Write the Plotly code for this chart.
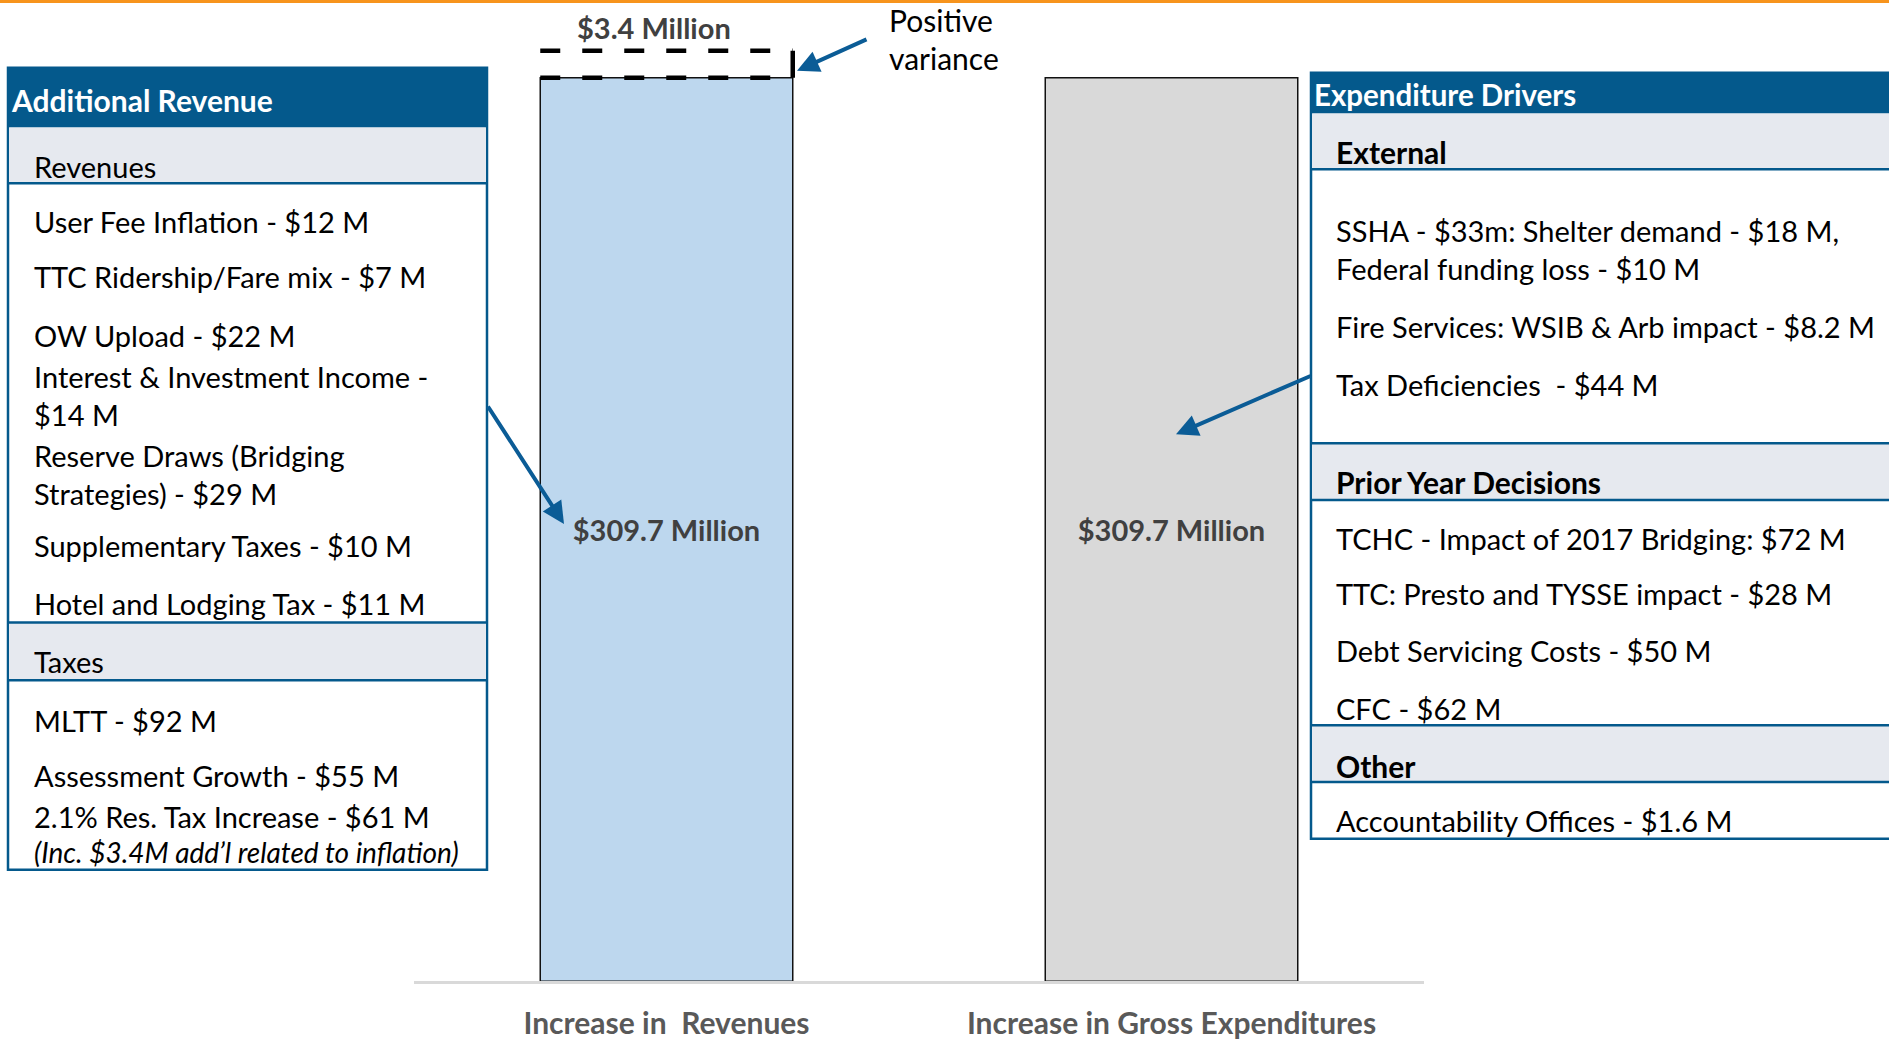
import plotly.graph_objects as go

# ---------------- data ----------------
categories = ["Increase in  Revenues", "Increase in Gross Expenditures"]
values = [309.7, 309.7]
variance = 3.4

revenue_title = "Additional Revenue"
revenue_group1 = "Revenues"
revenue_items1 = [
    "User Fee Inflation - $12 M",
    "TTC Ridership/Fare mix - $7 M",
    "OW Upload - $22 M",
    "Interest & Investment Income -\n$14 M",
    "Reserve Draws (Bridging\nStrategies) - $29 M",
    "Supplementary Taxes - $10 M",
    "Hotel and Lodging Tax - $11 M",
]
revenue_group2 = "Taxes"
revenue_items2 = [
    "MLTT - $92 M",
    "Assessment Growth - $55 M",
    "2.1% Res. Tax Increase - $61 M",
]
revenue_note = "(Inc. $3.4M add\u2019l related to inflation)"

exp_title = "Expenditure Drivers"
exp_groups = ["External", "Prior Year Decisions", "Other"]
exp_items = [
    ["SSHA - $33m: Shelter demand - $18 M,\nFederal funding loss - $10 M",
     "Fire Services: WSIB & Arb impact - $8.2 M",
     "Tax Deficiencies  - $44 M"],
    ["TCHC - Impact of 2017 Bridging: $72 M",
     "TTC: Presto and TYSSE impact - $28 M",
     "Debt Servicing Costs - $50 M",
     "CFC - $62 M"],
    ["Accountability Offices - $1.6 M"],
]
variance_note = "Positive\nvariance"

# ---------------- layout constants ----------------
W, H = 1889, 1040
FONT = "Lato"
NAVY = "#04598C"
BAND = "#E6E9EF"
ARROW = "#0B5C96"
ITEM_SIZE = 29


def px(x):
    return x / W


def py(y):
    return 1 - y / H


fig = go.Figure()
fig.add_trace(go.Bar(
    x=categories, y=values, width=0.5,
    marker=dict(color=["#BDD7EE", "#D9D9D9"], line=dict(color="#111111", width=1.5)),
    texttemplate="<b>$%{y:.1f} Million</b>", textposition="inside",
    insidetextanchor="middle",
    textfont=dict(family=FONT, size=29, color="#404040"),
    hoverinfo="skip",
))

shapes = []
annotations = []

# orange top line
shapes.append(dict(type="rect", xref="paper", yref="paper", x0=0, x1=1, y0=py(3), y1=1,
                   fillcolor="#F7941D", line=dict(width=0), layer="above"))


def rect(x0, x1, y0, y1, fill, line_w=0, line_c=NAVY):
    shapes.append(dict(type="rect", xref="paper", yref="paper",
                       x0=px(x0), x1=px(x1), y0=py(y1), y1=py(y0),
                       fillcolor=fill, line=dict(width=line_w, color=line_c), layer="below"))


def hline(x0, x1, y, w=2.5, c=NAVY):
    shapes.append(dict(type="line", xref="paper", yref="paper",
                       x0=px(x0), x1=px(x1), y0=py(y), y1=py(y),
                       line=dict(width=w, color=c), layer="below"))


def text(x, y, s, size=ITEM_SIZE, color="#000000", bold=False, italic=False, xanchor="left"):
    if bold:
        s = "<b>" + s + "</b>"
    if italic:
        s = "<i>" + s + "</i>"
    annotations.append(dict(xref="paper", yref="paper", x=px(x), y=py(y), text=s,
                            showarrow=False, xanchor=xanchor, yanchor="middle",
                            font=dict(family=FONT, size=size, color=color)))


# ---------- left panel ----------
LX0, LX1 = 8, 487
TX_L = 31.5
rect(LX0, LX1, 68, 873, "white", 2.5)
rect(LX0, LX1, 68, 128, NAVY)
rect(LX0 + 1, LX1 - 1, 128, 184, BAND)
rect(LX0 + 1, LX1 - 1, 625, 683, BAND)
hline(LX0, LX1, 184)
hline(LX0, LX1, 625)
hline(LX0, LX1, 683)
text(9, 100, revenue_title, size=30, color="white", bold=True)
text(TX_L, 167, revenue_group1)
rev_line_y = [222, 278, 337, 378, 416, 457, 495, 548, 606]
lines = [ln for it in revenue_items1 for ln in it.split("\n")]
for s, y in zip(lines, rev_line_y):
    text(TX_L, y, s)
text(TX_L, 664, revenue_group2)
for s, y in zip(revenue_items2, [723, 778, 820]):
    text(TX_L, y, s)
text(TX_L, 855, revenue_note, size=28, italic=True)

# ---------- right panel ----------
RX0, RX1 = 1311, 1895
TX_R = 1333.5
rect(RX0, RX1, 73, 842, "white", 2.5)
rect(RX0, RX1, 73, 114, NAVY)
band_spans = [(114, 170), (445, 502), (728, 785)]
for (b0, b1) in band_spans:
    rect(RX0 + 1, RX1, b0, b1, BAND)
    hline(RX0, RX1, b1)
hline(RX0, RX1, 445)
hline(RX0, RX1, 728)
text(1312, 95, exp_title, size=29.5, color="white", bold=True)
group_y = [153, 484, 769]
item_line_y = [[231, 270, 328, 386], [541, 596, 653, 711], [824]]
for g, gy, items, ys in zip(exp_groups, group_y, exp_items, item_line_y):
    text(TX_R, gy, g, size=30, bold=True)
    lns = [ln for it in items for ln in it.split("\n")]
    for s, y in zip(lns, ys):
        text(TX_R, y, s)

# ---------- variance box over revenue bar ----------
half = 0.25
box_px = 27
shapes.append(dict(type="line", xref="x", yref="y", x0=-half, x1=half,
                   ysizemode="pixel", yanchor=values[0], y0=box_px, y1=box_px,
                   line=dict(color="black", width=4.5, dash="20px,22px"), layer="above"))
shapes.append(dict(type="line", xref="x", yref="y", x0=-half, x1=half,
                   ysizemode="pixel", yanchor=values[0], y0=0, y1=0,
                   line=dict(color="black", width=4.5, dash="20px,22px"), layer="above"))
shapes.append(dict(type="line", xref="x", yref="y", x0=half, x1=half,
                   ysizemode="pixel", yanchor=values[0], y0=0, y1=box_px,
                   line=dict(color="black", width=4.5), layer="above"))
annotations.append(dict(xref="x", yref="y", x=0, y=values[0], yshift=50, xshift=-13,
                        text=f"<b>${variance} Million</b>", showarrow=False,
                        xanchor="center", yanchor="middle",
                        font=dict(family=FONT, size=29, color="#404040")))
for s, y in zip(variance_note.split("\n"), [20, 58]):
    text(887, y, s, size=30)

# ---------- arrows ----------
for head, tail in [((797, 71), (868, 39)), ((564, 526), (487, 407)), ((1176, 436), (1312, 377))]:
    annotations.append(dict(xref="paper", yref="paper", x=px(head[0]), y=py(head[1]),
                            ax=tail[0] - head[0], ay=tail[1] - head[1], axref="pixel", ayref="pixel",
                            text="", showarrow=True, arrowhead=2, arrowsize=1.1,
                            arrowwidth=4, arrowcolor=ARROW))

fig.update_layout(
    width=W, height=H, margin=dict(l=0, r=0, t=0, b=0),
    paper_bgcolor="white", plot_bgcolor="rgba(0,0,0,0)",
    showlegend=False, shapes=shapes, annotations=annotations,
    font=dict(family=FONT),
    xaxis=dict(domain=[px(414), px(1424)], range=[-0.5, 1.5], showgrid=False,
               showline=True, linecolor="#D9D9D9", linewidth=3, zeroline=False,
               ticks="", ticklabelstandoff=14,
               tickfont=dict(family=FONT, size=30, color="#595959", weight="bold"),
               fixedrange=True),
    yaxis=dict(domain=[1 - 985 / H, 1 - 4 / H], range=[0, 335], visible=False,
               showgrid=False, zeroline=False, fixedrange=True),
)

fig.write_html("out.html", config={"displayModeBar": False},
               post_script="document.body.style.margin='0px';document.body.style.overflow='hidden';")
